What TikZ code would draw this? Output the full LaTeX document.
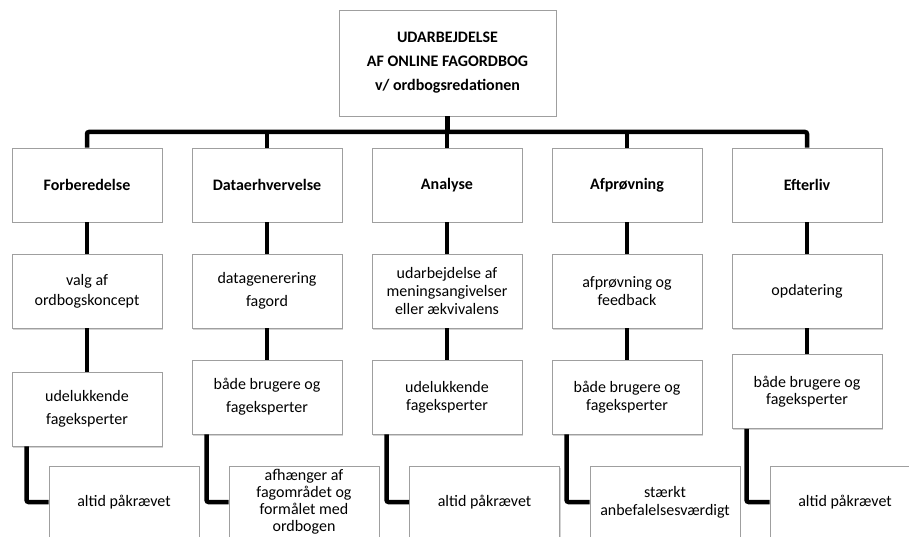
\documentclass[tikz,border=0pt]{standalone}
\usepackage{fontspec}
\setmainfont{Carlito}
\usetikzlibrary{shadows}

\tikzset{
  box/.style={draw=gray!75, line width=0.9pt, fill=white, align=center,
    minimum width=150pt, minimum height=74pt, inner sep=2pt,
    font=\fontsize{16}{18}\selectfont,
    drop shadow={shadow xshift=1.2pt, shadow yshift=-1.5pt, opacity=0.35}},
  head/.style={box, font=\fontsize{16}{18}\selectfont\bfseries},
  conn/.style={line width=4.5pt, black, rounded corners=2pt}
}

\begin{document}
\begin{tikzpicture}[x=1pt, y=-1pt]
\useasboundingbox (0,0) rectangle (909,537);
\clip (0,0) rectangle (909,537);

\node(top) at (447.5, 63) [head, minimum width=217pt, minimum height=106pt, font=\fontsize{16}{24}\selectfont\bfseries] {UDARBEJDELSE\\AF ONLINE FAGORDBOG\\v/ ordbogsredationen};
\coordinate(bar) at (447.5, 132);

\node(a1) at (87, 185) [head] {Forberedelse};
\node(b1) at (267, 185) [head] {Dataerhvervelse};
\node(c1) at (447, 185) [head] {Analyse};
\node(d1) at (627, 185) [head] {Afprøvning};
\node(e1) at (807, 185) [head] {Efterliv};

\node(a2) at (87, 291) [box, font=\fontsize{16}{20}\selectfont] {valg af\\ordbogskoncept};
\node(b2) at (267, 291) [box, font=\fontsize{16}{23}\selectfont] {datagenerering\\fagord};
\node(c2) at (447, 291) [box] {udarbejdelse af\\meningsangivelser\\eller ækvivalens};
\node(d2) at (627, 291) [box] {afprøvning og\\feedback};
\node(e2) at (807, 291) [box] {opdatering};

\node(a3) at (87, 409) [box, font=\fontsize{16}{23}\selectfont] {udelukkende\\fageksperter};
\node(b3) at (267, 397) [box, font=\fontsize{16}{23}\selectfont] {både brugere og\\fageksperter};
\node(c3) at (447, 397) [box] {udelukkende\\fageksperter};
\node(d3) at (627, 397) [box] {både brugere og\\fageksperter};
\node(e3) at (807, 391.5) [box, font=\fontsize{16}{17}\selectfont] {både brugere og\\fageksperter};

\node(a4) at (124, 502) [box, minimum height=72pt] {altid påkrævet};
\node(b4) at (304, 502) [box, minimum height=72pt, font=\fontsize{16}{17}\selectfont] {afhænger af\\fagområdet og\\formålet med\\ordbogen};
\node(c4) at (484.5, 502) [box, minimum height=72pt] {altid påkrævet};
\node(d4) at (665, 502) [box, minimum height=72pt] {stærkt\\anbefalelsesværdigt};
\node(e4) at (845, 502) [box, minimum height=72pt] {altid påkrævet};

\draw[conn] (top.south) to (bar);
\draw[conn] (a1.north) |- (bar) -| (e1.north);
\draw[conn] (b1.north) to (b1.north |- bar);
\draw[conn] (c1.north) to (c1.north |- bar);
\draw[conn] (d1.north) to (d1.north |- bar);

\foreach \n in {a,b,c,d,e}{
  \draw[conn] (\n1.south) to (\n2.north);
  \draw[conn] (\n2.south) to (\n3.north);
  \draw[conn] ([xshift=15pt]\n3.south west) |- (\n4.west);
}

\end{tikzpicture}
\end{document}
